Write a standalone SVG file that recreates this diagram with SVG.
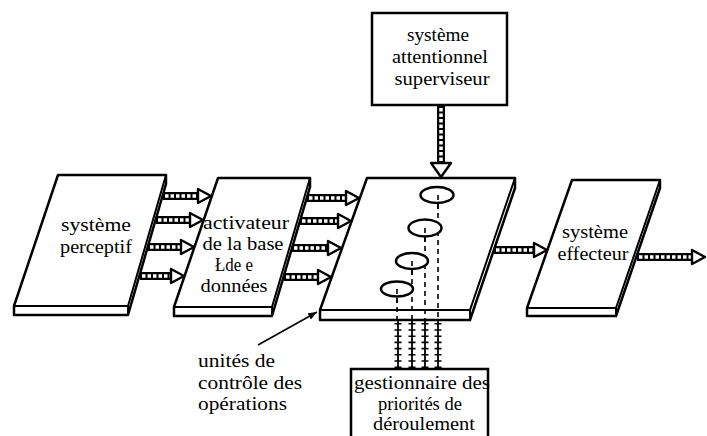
<svg xmlns="http://www.w3.org/2000/svg" width="707" height="436" viewBox="0 0 707 436">
<defs>
<style>
.slab{fill:#fff;stroke:#000;stroke-width:2.5;stroke-linejoin:round}
.edge{fill:none;stroke:#000;stroke-width:2}
.box{fill:#fff;stroke:#000;stroke-width:2.5}
.sh{stroke:#000;stroke-width:8;fill:none}
.sd{stroke:#fff;stroke-width:3.5;stroke-dasharray:3.5 2;fill:none}
.ah{fill:#fff;stroke:#000;stroke-width:2.4;stroke-linejoin:round}
.t{font-family:"Liberation Serif","Times New Roman",serif;font-size:18px;fill:#000}
.c{text-anchor:middle}
.ell{fill:#fff;stroke:#000;stroke-width:2.5}
.dash{stroke:#000;stroke-width:1.6;stroke-dasharray:5 4;fill:none}
.rail{stroke:#000;stroke-width:1.8;fill:none}
.tick{stroke:#000;stroke-width:7;stroke-dasharray:1.6 4.6;fill:none}
</style>
<marker id="ptr" viewBox="0 0 10 10" refX="10" refY="5" markerWidth="9" markerHeight="9" markerUnits="userSpaceOnUse" orient="auto">
<path d="M0,1 L10,5 L0,9 Z" fill="#000"/>
</marker>
</defs>

<g id="systeme-perceptif">
<path class="slab" d="M58,175 L166,175 L166,184 L128,315 L14,315 L14,306 Z"/>
<path class="edge" d="M14,306 L128,306 L166,175 M128,306 L128,315"/>
<text class="t c" x="96" y="231" textLength="70" lengthAdjust="spacingAndGlyphs">système</text>
<text class="t c" x="96" y="253" textLength="72" lengthAdjust="spacingAndGlyphs">perceptif</text>
</g>

<g id="activateur">
<path class="slab" d="M218,178 L310,178 L310,187 L272,316 L174,316 L174,307 Z"/>
<path class="edge" d="M174,307 L272,307 L310,178 M272,307 L272,316"/>
<text class="t c" x="246" y="229" textLength="86" lengthAdjust="spacingAndGlyphs">activateur</text>
<text class="t c" x="243" y="250" textLength="81" lengthAdjust="spacingAndGlyphs">de la base</text>
<text class="t c" x="234" y="271" textLength="38" lengthAdjust="spacingAndGlyphs">Łde e</text>
<text class="t c" x="234" y="292" textLength="67" lengthAdjust="spacingAndGlyphs">données</text>
</g>

<g id="unites-controle">
<path class="slab" d="M367,178 L515,178 L515,188 L470,320 L320,320 L320,310 Z"/>
<path class="edge" d="M320,310 L470,310 L515,178 M470,310 L470,320"/>
<g id="dashed-links">
<line class="dash" x1="438" y1="195" x2="438" y2="320"/>
<line class="dash" x1="425" y1="228" x2="425" y2="320"/>
<line class="dash" x1="412" y1="261" x2="412" y2="320"/>
<line class="dash" x1="397" y1="289" x2="397" y2="320"/>
</g>
<ellipse class="ell" cx="437" cy="195" rx="16.5" ry="8"/>
<ellipse class="ell" cx="425" cy="228" rx="16.5" ry="8.5"/>
<ellipse class="ell" cx="412" cy="261" rx="16" ry="8"/>
<ellipse class="ell" cx="397" cy="289" rx="16" ry="7.5"/>
<line class="dash" x1="438" y1="195" x2="438" y2="210"/>
<line class="dash" x1="425" y1="228" x2="425" y2="244"/>
<line class="dash" x1="412" y1="261" x2="412" y2="276"/>
<line class="dash" x1="397" y1="289" x2="397" y2="304"/>
</g>

<g id="systeme-effecteur">
<path class="slab" d="M572,180 L660,180 L660,188 L616,316 L527,316 L527,308 Z"/>
<path class="edge" d="M527,308 L616,308 L660,180 M616,308 L616,316"/>
<text class="t c" x="595" y="238" textLength="66" lengthAdjust="spacingAndGlyphs">système</text>
<text class="t c" x="593" y="260" textLength="71" lengthAdjust="spacingAndGlyphs">effecteur</text>
</g>

<g id="systeme-attentionnel">
<rect class="box" x="372" y="13" width="135" height="92"/>
<text class="t c" x="438" y="41" textLength="62" lengthAdjust="spacingAndGlyphs">système</text>
<text class="t c" x="440" y="63" textLength="96" lengthAdjust="spacingAndGlyphs">attentionnel</text>
<text class="t c" x="442" y="85" textLength="95" lengthAdjust="spacingAndGlyphs">superviseur</text>
</g>

<g id="gestionnaire">
<path class="box" d="M351,440 L351,369 L488,369 L488,440"/>
<text class="t" x="354" y="389" textLength="136" lengthAdjust="spacingAndGlyphs">gestionnaire des</text>
<text class="t c" x="420" y="410" textLength="84" lengthAdjust="spacingAndGlyphs">priorités de</text>
<text class="t c" x="424" y="430" textLength="102" lengthAdjust="spacingAndGlyphs">déroulement</text>
</g>

<g id="label-unites">
<text class="t" x="198" y="367" textLength="77" lengthAdjust="spacingAndGlyphs">unités de</text>
<text class="t" x="198" y="389" textLength="104" lengthAdjust="spacingAndGlyphs">contrôle des</text>
<text class="t" x="198" y="410" textLength="89" lengthAdjust="spacingAndGlyphs">opérations</text>
</g>

<g id="connectors">
<line class="sh" x1="163" y1="196" x2="199" y2="196"/><line class="sd" x1="165" y1="196" x2="199" y2="196"/><path class="ah" d="M198,189 L211,196 L198,203 Z"/>
<line class="sh" x1="156" y1="220" x2="191" y2="220"/><line class="sd" x1="158" y1="220" x2="191" y2="220"/><path class="ah" d="M190,213 L203,220 L190,227 Z"/>
<line class="sh" x1="148" y1="247" x2="182" y2="247"/><line class="sd" x1="150" y1="247" x2="182" y2="247"/><path class="ah" d="M181,240 L194,247 L181,254 Z"/>
<line class="sh" x1="140" y1="276" x2="172" y2="276"/><line class="sd" x1="142" y1="276" x2="172" y2="276"/><path class="ah" d="M171,269 L184,276 L171,283 Z"/>
<line class="sh" x1="307" y1="198" x2="347" y2="198"/><line class="sd" x1="309" y1="198" x2="347" y2="198"/><path class="ah" d="M346,191 L359,198 L346,205 Z"/>
<line class="sh" x1="300" y1="221" x2="339" y2="221"/><line class="sd" x1="302" y1="221" x2="339" y2="221"/><path class="ah" d="M338,214 L351,221 L338,228 Z"/>
<line class="sh" x1="292" y1="248" x2="329" y2="248"/><line class="sd" x1="294" y1="248" x2="329" y2="248"/><path class="ah" d="M328,241 L341,248 L328,255 Z"/>
<line class="sh" x1="284" y1="277" x2="319" y2="277"/><line class="sd" x1="286" y1="277" x2="319" y2="277"/><path class="ah" d="M318,270 L331,277 L318,284 Z"/>
<line class="sh" x1="494" y1="250" x2="535" y2="250"/><line class="sd" x1="496" y1="250" x2="535" y2="250"/><path class="ah" d="M534,243 L547,250 L534,257 Z"/>
<line class="sh" x1="637" y1="257" x2="693" y2="257"/><line class="sd" x1="639" y1="257" x2="693" y2="257"/><path class="ah" d="M692,250 L705,257 L692,264 Z"/>
<line class="sh" x1="441" y1="106" x2="441" y2="164"/><line class="sd" x1="441" y1="108" x2="441" y2="164"/><path class="ah" d="M431,163 L441,177 L451,163 Z"/>
<line class="rail" x1="398" y1="320" x2="398" y2="369"/><line class="tick" x1="398" y1="323" x2="398" y2="369"/>
<line class="rail" x1="412" y1="320" x2="412" y2="369"/><line class="tick" x1="412" y1="323" x2="412" y2="369"/>
<line class="rail" x1="425" y1="320" x2="425" y2="369"/><line class="tick" x1="425" y1="323" x2="425" y2="369"/>
<line class="rail" x1="438" y1="320" x2="438" y2="369"/><line class="tick" x1="438" y1="323" x2="438" y2="369"/>
<line x1="258" y1="345" x2="317" y2="312" stroke="#000" stroke-width="1.6" marker-end="url(#ptr)"/>
</g>
</svg>
